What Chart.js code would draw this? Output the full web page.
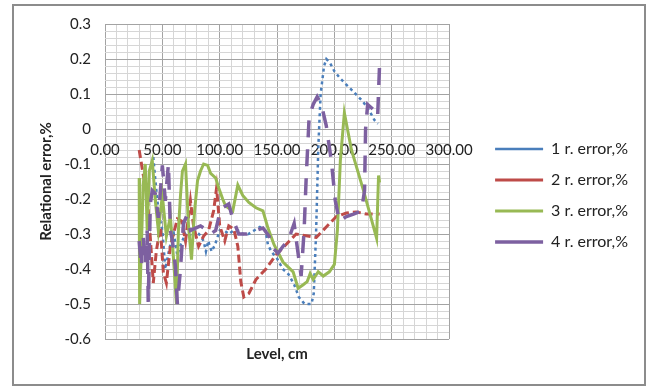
<!DOCTYPE html>
<html>
<head>
<meta charset="utf-8">
<script src="https://cdn.jsdelivr.net/npm/chart.js@4.4.1/dist/chart.umd.min.js"></script>
<style>
  html, body { margin: 0; padding: 0; background: #fff; }
  #wrap { position: relative; width: 659px; height: 387px; }
  #frame {
    position: absolute; left: 12px; top: 4px; width: 634px; height: 382px;
    box-sizing: border-box; border: 2px solid #8c8c8c; pointer-events: none;
  }
</style>
</head>
<body>
<div id="wrap">
  <canvas id="chart" width="659" height="387"></canvas>
  <div id="frame"></div>
</div>
<script>
// niveaux (cm) et erreurs relatives (%)
const lvl1 = [42.1, 44, 46.5, 48, 50, 52.6, 55, 57, 60, 63, 66, 70, 72, 75, 78, 82, 86, 88, 90, 93,
  96, 100, 104, 108, 112, 116, 120, 125, 130, 135, 140, 142, 145, 150, 155, 160, 165, 169, 174, 180,
  182, 184, 186, 188, 191, 193, 196, 200, 205, 210, 215, 220, 225, 230, 235, 238];
const err1 = [-0.08, -0.15, -0.23, -0.26, -0.29, -0.4, -0.36, -0.33, -0.3, -0.36, -0.33, -0.3, -0.31, -0.3, -0.29, -0.3, -0.32, -0.35, -0.32, -0.35,
  -0.33, -0.29, -0.29, -0.3, -0.29, -0.29, -0.3, -0.3, -0.29, -0.28, -0.29, -0.33, -0.35, -0.37, -0.4, -0.415, -0.445, -0.48, -0.5, -0.5,
  -0.47, -0.3, -0.05, 0.1, 0.18, 0.2, 0.19, 0.165, 0.145, 0.128, 0.112, 0.095, 0.078, 0.055, 0.025, 0.015];

const lvl2 = [29.8, 33.3, 36.8, 39.5, 42.1, 44.7, 48.2, 50.9, 53.5, 57, 60.5, 63.1, 66.7, 70.2, 74.5,
  77.2, 81.6, 86, 90.3, 94.7, 97.3, 100, 104.4, 107.9, 112.3, 115.8, 118.4, 121, 125.4, 131.6,
  140.3, 149.1, 157.9, 166.6, 175.4, 184.2, 192.9, 201.7, 210.5, 219.2, 228, 239.4];
const err2 = [-0.06, -0.13, -0.19, -0.31, -0.44, -0.35, -0.28, -0.41, -0.44, -0.335, -0.29, -0.257, -0.263, -0.32, -0.205,
  -0.277, -0.335, -0.306, -0.29, -0.234, -0.168, -0.277, -0.32, -0.277, -0.286, -0.335, -0.436, -0.48, -0.47, -0.43,
  -0.4, -0.36, -0.33, -0.3, -0.305, -0.31, -0.28, -0.25, -0.24, -0.237, -0.243, -0.243];

const lvl3 = [29.8, 30.2, 31.6, 33.3, 35.1, 36.8, 38.6, 41.2, 43.9, 46.5, 50, 53.5, 57, 59.6, 62.3,
  64, 65.8, 67.5, 70.2, 72.8, 75.4, 78.1, 80.7, 83.3, 86, 89.5, 92.1, 96.5, 99.1, 102.6,
  105.2, 111.4, 115.8, 120.1, 125.4, 131.6, 137.7, 142.1, 147.3, 155.2, 164, 168.4, 172.8, 176.3, 178.9,
  181.5, 185.9, 190.3, 195.6, 200, 202.6, 205.2, 208.7, 214.9, 225.4, 236.8, 238.5, 239.4];
const err3 = [-0.14, -0.5, -0.35, -0.16, -0.1, -0.29, -0.12, -0.09, -0.205, -0.29, -0.19, -0.306, -0.25, -0.364, -0.5,
  -0.29, -0.19, -0.12, -0.1, -0.277, -0.373, -0.234, -0.147, -0.12, -0.1, -0.104, -0.127, -0.14, -0.168, -0.2,
  -0.22, -0.234, -0.16, -0.19, -0.21, -0.225, -0.234, -0.283, -0.33, -0.38, -0.408, -0.455, -0.445, -0.436, -0.413,
  -0.43, -0.408, -0.42, -0.408, -0.387, -0.29, -0.09, 0.046, -0.06, -0.176, -0.312, -0.133, -0.153];

const lvl4 = [29.8, 31.6, 33.3, 35.1, 36.8, 37.7, 39.5, 41.2, 43.9, 46.5, 50, 52.6, 55.3, 57, 58.8,
  61.4, 63.1, 65.8, 68.4, 71, 74.5, 78.9, 83.3, 87.7, 92.1, 96.5, 99.1, 102.6, 107.9, 111.4,
  116.6, 123.7, 131.6, 137.7, 143, 146.5, 150.8, 155.2, 159.6, 164.9, 167.5, 171, 173.6, 175.4, 178,
  181.5, 185, 188.6, 192.9, 197.3, 200.8, 204.3, 210.5, 216.6, 223.6, 226.3, 227.2, 229, 234.2, 237.7, 239.4];
const err4 = [-0.32, -0.393, -0.306, -0.387, -0.29, -0.494, -0.214, -0.176, -0.185, -0.254, -0.104, -0.205, -0.1, -0.29, -0.32,
  -0.393, -0.5, -0.4, -0.27, -0.25, -0.29, -0.283, -0.277, -0.286, -0.3, -0.29, -0.254, -0.225, -0.214, -0.257,
  -0.3, -0.3, -0.29, -0.283, -0.306, -0.34, -0.355, -0.335, -0.32, -0.27, -0.335, -0.42, -0.29, -0.14, 0.035,
  0.07, 0.092, 0.07, 0.01, -0.09, -0.205, -0.263, -0.25, -0.243, -0.234, -0.176, 0, 0.07, 0.055, 0.035, 0.185];

const seriesNames = ['1 r. error,%', '2 r. error,%', '3 r. error,%', '4 r. error,%'];

const pts = (xs, ys) => xs.map((x, i) => ({ x: x, y: ys[i] }));

Chart.defaults.font.family = 'Lato, "Liberation Sans", sans-serif';
Chart.defaults.font.size = 15;
Chart.defaults.color = '#222';

const MAJOR = '#a3a3a3';
const MINOR = '#d6d6d6';

const ctx = document.getElementById('chart').getContext('2d');
new Chart(ctx, {
  type: 'line',
  data: {
    datasets: [
      { label: seriesNames[0], data: pts(lvl1, err1), borderColor: '#4A7EBB', borderWidth: 2.5, borderDash: [3, 3.4], order: 4 },
      { label: seriesNames[1], data: pts(lvl2, err2), borderColor: '#BE4B48', borderWidth: 3, borderDash: [8, 4], order: 3 },
      { label: seriesNames[2], data: pts(lvl3, err3), borderColor: '#98B954', borderWidth: 3, order: 2 },
      { label: seriesNames[3], data: pts(lvl4, err4), borderColor: '#7D60A0', borderWidth: 3.5, borderDash: [17, 12], order: 1 }
    ].map(d => Object.assign(d, { xAxisID: 'x', yAxisID: 'y', pointRadius: 0, fill: false, tension: 0 }))
  },
  options: {
    responsive: false,
    animation: false,
    layout: { padding: { left: 33, top: 24, right: 21, bottom: 22 } },
    plugins: {
      tooltip: { enabled: false },
      legend: {
        position: 'right',
        align: 'center',
        fullSize: false,
        maxWidth: 200,
        // titre vide : décale les entrées vers le bas comme dans l'original
        title: { display: true, text: ' ', padding: { top: 5, bottom: 5 } },
        labels: {
          usePointStyle: true,
          pointStyle: 'line',
          pointStyleWidth: 48,
          padding: 15,
          font: { size: 16 },
          sort: (a, b) => a.datasetIndex - b.datasetIndex
        }
      }
    },
    scales: {
      x: {
        type: 'linear',
        position: { y: 0 },
        min: 0, max: 300,
        grid: { color: c => (c.tick && c.tick.value % 50 === 0) ? MAJOR : MINOR, drawTicks: false },
        border: { display: false },
        ticks: {
          stepSize: 10, autoSkip: false, maxRotation: 0, padding: 12,
          callback: v => (v % 50 === 0 ? v.toFixed(2) : '')
        }
      },
      xTitle: {
        axis: 'x', type: 'linear', position: 'bottom',
        grid: { display: false, drawTicks: false },
        border: { display: false },
        ticks: { display: false },
        title: { display: true, text: 'Level, cm', font: { size: 15, weight: 'bold' }, padding: { top: 6, bottom: 2 } }
      },
      y: {
        type: 'linear', position: 'left',
        min: -0.6, max: 0.3,
        grid: { color: c => (c.tick && Math.round(c.tick.value * 100) % 10 === 0) ? MAJOR : MINOR, drawTicks: false },
        border: { display: false },
        ticks: {
          stepSize: 0.02, autoSkip: false, padding: 14,
          callback: v => {
            const r = Math.round(v * 100);
            if (r % 10 !== 0) return '';
            return r === 0 ? '0' : (r / 100).toFixed(1);
          }
        },
        title: { display: true, text: 'Relational error,%', font: { size: 15, weight: 'bold' } },
        afterFit: s => { s.width = 72; }
      },
      yGap: {
        axis: 'y', type: 'linear', position: 'right',
        grid: { display: false, drawTicks: false },
        border: { display: false },
        ticks: { display: false },
        afterFit: s => { s.width = 31; }
      }
    }
  }
});
</script>
</body>
</html>
